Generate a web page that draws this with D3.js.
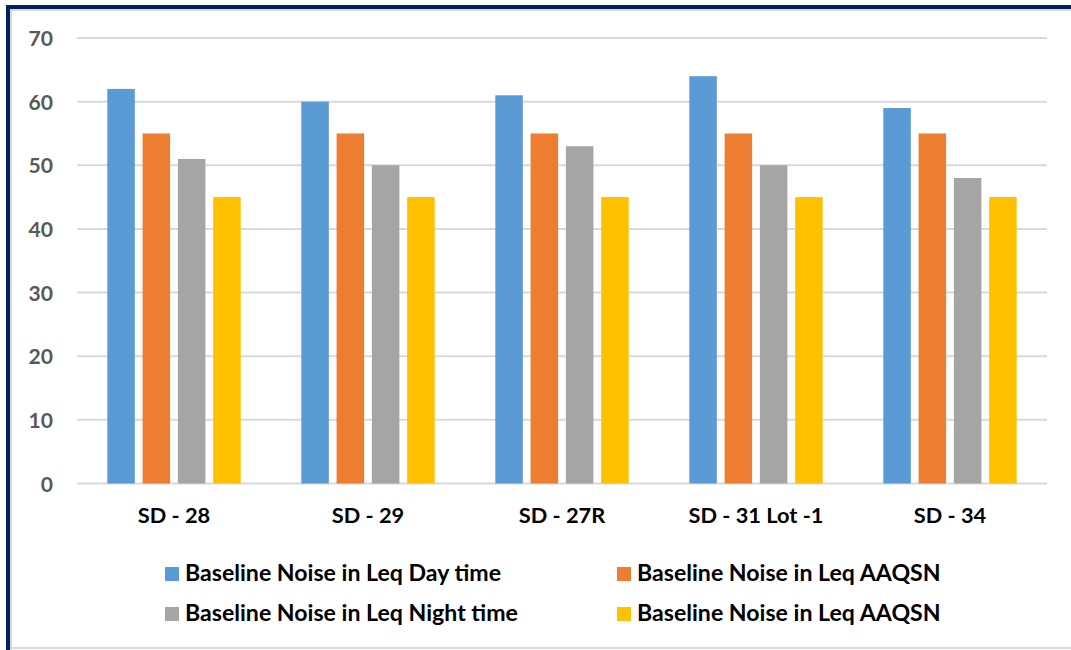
<!DOCTYPE html>
<html>
<head>
<meta charset="utf-8">
<script src="https://cdn.jsdelivr.net/npm/d3@7"></script>
<style>
  html, body { margin: 0; padding: 0; background: #ffffff; }
  svg { display: block; }
  text { font-family: "Lato", "Open Sans", "DejaVu Sans", sans-serif; font-weight: 700; }
</style>
</head>
<body>
<svg id="chart" width="1071" height="650"></svg>
<script>
const categories = ["SD - 28", "SD - 29", "SD - 27R", "SD - 31 Lot -1", "SD - 34"];
const seriesNames = [
  "Baseline Noise in Leq Day time",
  "Baseline Noise in Leq AAQSN",
  "Baseline Noise in Leq Night time",
  "Baseline Noise in Leq AAQSN"
];
const dayTime   = [62, 60, 61, 64, 59];
const aaqsnDay  = [55, 55, 55, 55, 55];
const nightTime = [51, 50, 53, 50, 48];
const aaqsnNight= [45, 45, 45, 45, 45];
const yTicks = [0, 10, 20, 30, 40, 50, 60, 70];
const colors = ["#5B9BD5", "#ED7D31", "#A5A5A5", "#FFC000"];

const seriesValues = [dayTime, aaqsnDay, nightTime, aaqsnNight];

const svg = d3.select("#chart");

svg.append("rect").attr("x", 0).attr("y", 0).attr("width", 1071).attr("height", 650).attr("fill", "#ffffff");

// frame
svg.append("rect").attr("x", 10).attr("y", 9).attr("width", 1061).attr("height", 2).attr("fill", "#d9d9d9");
svg.append("rect").attr("x", 10).attr("y", 9).attr("width", 2).attr("height", 641).attr("fill", "#d9d9d9");
svg.append("rect").attr("x", 10).attr("y", 647).attr("width", 1061).attr("height", 2).attr("fill", "#d9d9d9");
svg.append("rect").attr("x", 6).attr("y", 5).attr("width", 1065).attr("height", 4).attr("fill", "#002060");
svg.append("rect").attr("x", 6).attr("y", 5).attr("width", 4).attr("height", 645).attr("fill", "#002060");

const plotLeft = 77, plotRight = 1047;
const y = d3.scaleLinear().domain([0, 70]).range([483.5, 38]);

const x0 = d3.scaleBand().domain(categories).range([plotLeft, plotRight])
  .paddingInner(0.3124).paddingOuter(0.1562);
const x1 = d3.scaleBand().domain(d3.range(seriesNames.length)).range([0, x0.bandwidth()])
  .paddingInner(0.22).paddingOuter(0);

// gridlines
svg.append("g").selectAll("line").data(yTicks).join("line")
  .attr("x1", plotLeft).attr("x2", plotRight)
  .attr("y1", d => y(d)).attr("y2", d => y(d))
  .attr("stroke", "#d9d9d9").attr("stroke-width", 2);

// y axis labels
const yAxis = d3.axisLeft(y).tickValues(yTicks).tickSize(0).tickPadding(0);
const yg = svg.append("g").attr("transform", "translate(53,0)").call(yAxis);
yg.select(".domain").remove();
yg.selectAll("text")
  .attr("fill", "#595959")
  .style("font-size", "21px")
  .style("font-family", "Lato, 'Open Sans', sans-serif")
  .style("font-weight", 700)
  .attr("dy", "0.36em");
(function fitY() {
  const t = yg.selectAll("text").filter(d => d === 70).node();
  const w = t.getComputedTextLength();
  yg.selectAll("text").style("font-size", (21 * 24.5 / w) + "px");
})();

// bars
const groups = svg.append("g").selectAll("g").data(categories).join("g")
  .attr("transform", d => `translate(${x0(d)},0)`);
groups.selectAll("rect").data((c, ci) => seriesValues.map((vals, si) => ({ si, v: vals[ci] })))
  .join("rect")
  .attr("x", d => x1(d.si))
  .attr("width", x1.bandwidth())
  .attr("y", d => y(d.v))
  .attr("height", d => y(0) - y(d.v))
  .attr("fill", d => colors[d.si]);

// category labels
const xAxis = d3.axisBottom(x0).tickSize(0).tickPadding(0);
const xg = svg.append("g").attr("transform", "translate(0,523)").call(xAxis);
xg.select(".domain").remove();
xg.selectAll("text")
  .attr("fill", "#000000")
  .attr("dy", 0)
  .attr("y", 0)
  .style("font-size", "21px")
  .style("font-family", "Lato, 'Open Sans', sans-serif")
  .style("font-weight", 700);
(function fit() {
  const t = xg.selectAll("text").filter(d => d === "SD - 31 Lot -1").node();
  const w = t.getComputedTextLength();
  xg.selectAll("text").style("font-size", (21 * 135 / w) + "px");
})();

// legend
const legendPos = [
  { x: 165, y: 567 }, { x: 617, y: 567 },
  { x: 165, y: 607 }, { x: 617, y: 607 }
];
const leg = svg.append("g").selectAll("g").data(seriesNames).join("g")
  .attr("transform", (d, i) => `translate(${legendPos[i].x},${legendPos[i].y})`);
leg.append("rect").attr("width", 14).attr("height", 14).attr("fill", (d, i) => colors[i]);
const legText = leg.append("text").attr("x", 20).attr("y", 13.5)
  .attr("fill", "#000000").style("font-size", "21px").text(d => d);
(function fitLeg() {
  const n = legText.filter((d, i) => i === 2).node();
  const w = n.getComputedTextLength();
  legText.style("font-size", (21 * 333 / w) + "px");
})();
</script>
</body>
</html>
